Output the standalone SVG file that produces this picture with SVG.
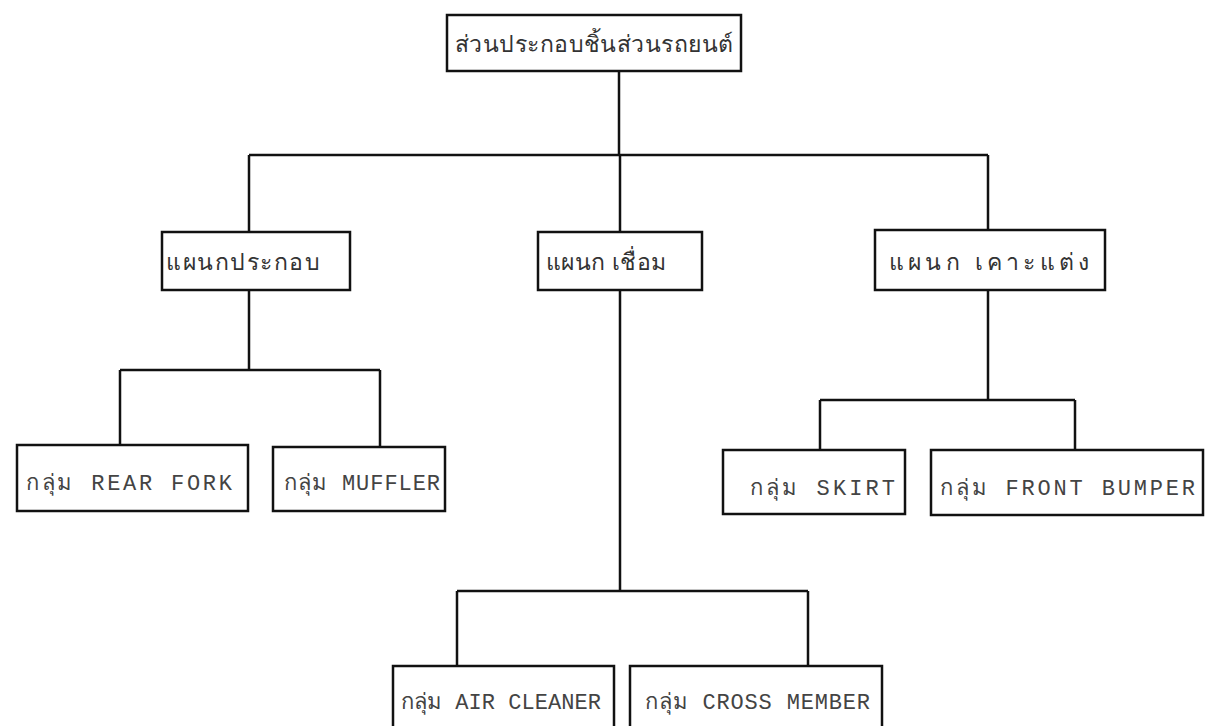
<svg xmlns="http://www.w3.org/2000/svg" width="1207" height="726" viewBox="0 0 1207 726">
<style>
.box{fill:none;stroke:#111;stroke-width:2.5}
.ln{fill:none;stroke:#111;stroke-width:2.5}
.th{font-family:"Liberation Sans","Noto Sans",sans-serif;font-size:23px;fill:#333}
.mono{font-family:"Liberation Mono","DejaVu Sans Mono",monospace;font-size:22px;fill:#444}
</style>
<rect width="1207" height="726" fill="#fff"/>
<g id="connectors">
<path class="ln" d="M619 71V155M249 155H988M249 155V232M620 155V232M988 155V230"/>
<path class="ln" d="M249 290V370M120 370H380M120 370V445M380 370V447"/>
<path class="ln" d="M988 290V400M820 400H1075M820 400V450M1075 400V450"/>
<path class="ln" d="M620 290V591M457 591H808M457 591V666M808 591V666"/>
</g>
<g id="n-root"><rect class="box" x="447" y="15" width="294" height="56"/><text class="th" x="455" y="52" textLength="278">ส่วนประกอบชิ้นส่วนรถยนต์</text></g>
<g id="n-assembly"><rect class="box" x="162" y="232" width="188" height="58"/><text class="th" x="166" y="270" textLength="154">แผนกประกอบ</text></g>
<g id="n-weld"><rect class="box" x="538" y="232" width="164" height="58"/><text class="th" x="546" y="270" textLength="120">แผนก เชื่อม</text></g>
<g id="n-body"><rect class="box" x="875" y="230" width="230" height="60"/><text class="th" x="889" y="270" textLength="200">แผนก เคาะแต่ง</text></g>
<g id="n-rearfork"><rect class="box" x="17" y="445" width="231" height="66"/><text class="mono" x="26" y="490" textLength="206">กลุ่ม REAR FORK</text></g>
<g id="n-muffler"><rect class="box" x="273" y="447" width="172" height="64"/><text class="mono" x="284" y="490" textLength="156">กลุ่ม MUFFLER</text></g>
<g id="n-skirt"><rect class="box" x="723" y="450" width="182" height="64"/><text class="mono" x="750" y="495" textLength="145">กลุ่ม SKIRT</text></g>
<g id="n-bumper"><rect class="box" x="931" y="450" width="272" height="65"/><text class="mono" x="940" y="495" textLength="255">กลุ่ม FRONT BUMPER</text></g>
<g id="n-aircleaner"><rect class="box" x="393" y="666" width="221" height="80"/><text class="mono" x="401" y="709" textLength="200">กลุ่ม AIR CLEANER</text></g>
<g id="n-crossmember"><rect class="box" x="630" y="666" width="252" height="80"/><text class="mono" x="645" y="709" textLength="225">กลุ่ม CROSS MEMBER</text></g>
</svg>
